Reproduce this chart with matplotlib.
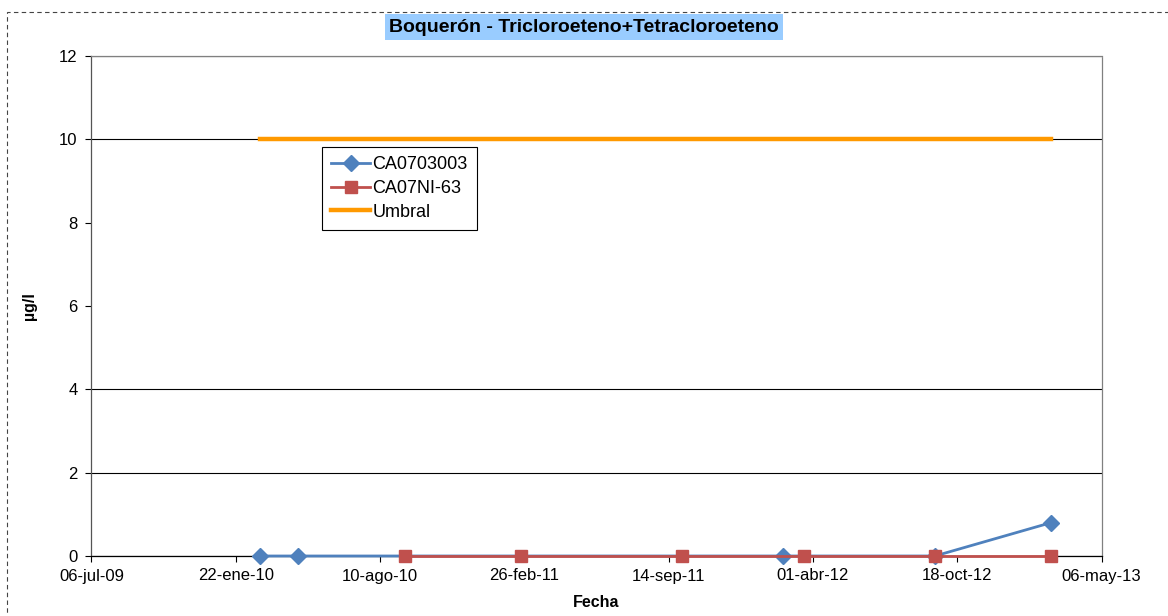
import matplotlib.pyplot as plt
import numpy as np
from matplotlib.patches import Rectangle

plt.rcParams["font.family"] = ["Liberation Sans", "DejaVu Sans"]

# data
blue_dates = ["2010-02-25", "2010-04-19", "2012-02-19", "2012-09-17", "2013-02-25"]
blue_vals = [0, 0, 0, 0, 0.8]
red_dates = ["2010-09-14", "2011-02-22", "2011-10-03", "2012-03-19", "2012-09-17", "2013-02-25"]
red_vals = [0, 0, 0, 0, 0, 0]
umbral_dates = ["2010-02-25", "2013-02-25"]
umbral_vals = [10, 10]

tick_dates = ["2009-07-06", "2010-01-22", "2010-08-10", "2011-02-26",
              "2011-09-14", "2012-04-01", "2012-10-18", "2013-05-06"]
tick_labels = ["06-jul-09", "22-ene-10", "10-ago-10", "26-feb-11",
               "14-sep-11", "01-abr-12", "18-oct-12", "06-may-13"]

to_d = lambda lst: np.array(lst, dtype="datetime64[D]")

fig = plt.figure(figsize=(11.68, 6.16), dpi=100)
W, H = 1168, 616
ax = fig.add_axes([91.4 / W, (616 - 556) / H, (1101.5 - 91.4) / W, 500 / H])

ax.plot(to_d(blue_dates), blue_vals, color="#4F81BD", lw=2, marker="D",
        ms=8, label="CA0703003", zorder=3, clip_on=False)
ax.plot(to_d(red_dates), red_vals, color="#C0504D", lw=2, marker="s",
        ms=9, label="CA07NI-63", zorder=4, clip_on=False)
ax.plot(to_d(umbral_dates), umbral_vals, color="#FF9900", lw=3.2, label="Umbral", zorder=3)

ax.set_xlim(to_d(["2009-07-06"])[0], to_d(["2013-05-06"])[0])
ax.set_ylim(0, 12)
ax.set_xticks(to_d(tick_dates))
ax.set_xticklabels(tick_labels)
ax.set_yticks(np.arange(0, 13, 2))
ax.tick_params(axis="both", labelsize=12, direction="out", length=4, width=0.8, color="black")
ax.tick_params(axis="x", pad=5)
ax.tick_params(axis="y", pad=6)

ax.grid(axis="y", color="black", lw=0.8)
for gl, v in zip(ax.get_ygridlines(), np.arange(0, 13, 2)):
    if v in (6, 8):
        gl.set_visible(False)
ax.set_axisbelow(True)

ax.spines["left"].set_color("#555555")
ax.spines["bottom"].set_color("black")
ax.spines["top"].set_color("#808080")
ax.spines["right"].set_color("#808080")
ax.spines["right"].set_linestyle((0, (3, 1)))
for s in ax.spines.values():
    s.set_linewidth(0.9)

ax.set_xlabel("Fecha", fontsize=11.5, fontweight="bold", labelpad=8)
ax.set_ylabel("µg/l", fontsize=11.5, fontweight="bold", labelpad=16)

leg = ax.legend(loc="upper left", bbox_to_anchor=(0.228, 0.818), fontsize=13,
                frameon=True, fancybox=False, edgecolor="black", framealpha=1,
                handlelength=2.2, handletextpad=0.1, borderpad=0.5,
                labelspacing=0.38, borderaxespad=0)
leg.get_frame().set_linewidth(0.8)

fig.text(584 / W, 1 - 27 / H, "Boquerón - Tricloroeteno+Tetracloroeteno",
         ha="center", va="center", fontsize=14, fontweight="bold",
         bbox=dict(facecolor="#99CCFF", edgecolor="none", pad=3))

fig.add_artist(Rectangle((7 / W, -0.2), 1.2, 1.2 - 12 / H, transform=fig.transFigure,
                         fill=False, edgecolor="#444444", lw=0.8, ls=(0, (4, 3))))

fig.savefig("out.png", dpi=100)
